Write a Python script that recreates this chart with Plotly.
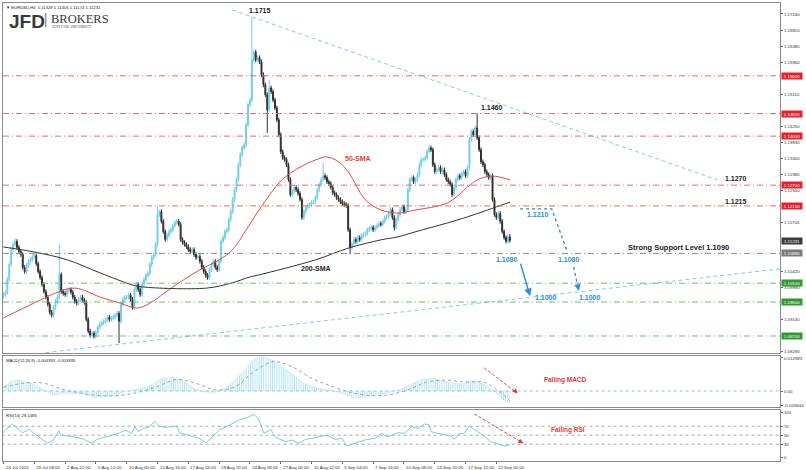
import plotly.graph_objects as go

# ---------------- DATA ----------------
closes = [
1.0980,1.0985,1.1020,1.1060,1.1099,1.1113,1.1121,1.1105,1.1094,1.1086,
1.1052,1.1041,1.1057,1.1068,1.1073,1.1081,1.1083,1.1062,1.1041,1.1025,
1.1007,1.0988,1.0973,1.0954,1.0933,1.0925,1.0946,1.0962,1.0973,1.1033,
1.0988,1.0983,1.0980,1.0991,1.0993,1.0986,1.0973,1.0962,1.0957,1.0967,
1.0973,1.0965,1.0959,1.0914,1.0883,1.0872,1.0877,1.0869,1.0880,1.0893,
1.0901,1.0904,1.0909,1.0912,1.0920,1.0914,1.0917,1.0920,1.0925,1.0930,
1.0909,1.0954,1.0967,1.0973,1.0973,1.0978,1.0967,1.0946,1.0993,1.1007,
1.0993,1.0980,1.1007,1.1020,1.1031,1.1036,1.1060,1.1078,1.1086,1.1113,
1.1192,1.1200,1.1174,1.1147,1.1126,1.1137,1.1147,1.1152,1.1163,1.1171,
1.1174,1.1166,1.1126,1.1118,1.1113,1.1107,1.1099,1.1094,1.1099,1.1086,
1.1078,1.1081,1.1068,1.1052,1.1041,1.1031,1.1025,1.1046,1.1060,1.1068,
1.1052,1.1046,1.1068,1.1121,1.1131,1.1147,1.1152,1.1179,1.1200,1.1232,
1.1258,1.1285,1.1324,1.1351,1.1369,1.1377,1.1430,1.1483,1.1496,1.1602,
1.1623,1.1602,1.1608,1.1597,1.1563,1.1536,1.1510,1.1470,1.1528,1.1518,
1.1496,1.1475,1.1443,1.1404,1.1359,1.1343,1.1338,1.1324,1.1285,1.1245,
1.1253,1.1264,1.1258,1.1248,1.1232,1.1184,1.1200,1.1211,1.1216,1.1219,
1.1224,1.1226,1.1237,1.1258,1.1272,1.1285,1.1295,1.1290,1.1279,1.1274,
1.1264,1.1250,1.1245,1.1237,1.1232,1.1226,1.1221,1.1219,1.1216,1.1152,
1.1105,1.1115,1.1126,1.1121,1.1131,1.1126,1.1137,1.1139,1.1142,1.1152,
1.1155,1.1158,1.1152,1.1158,1.1163,1.1168,1.1166,1.1174,1.1184,1.1187,
1.1195,1.1205,1.1184,1.1158,1.1179,1.1192,1.1205,1.1213,1.1200,1.1205,
1.1258,1.1285,1.1290,1.1279,1.1285,1.1298,1.1324,1.1338,1.1338,1.1343,
1.1359,1.1369,1.1364,1.1324,1.1306,1.1311,1.1317,1.1306,1.1311,1.1298,
1.1285,1.1279,1.1272,1.1245,1.1264,1.1285,1.1295,1.1290,1.1301,1.1306,
1.1295,1.1317,1.1391,1.1412,1.1404,1.1422,1.1396,1.1364,1.1332,1.1324,
1.1306,1.1298,1.1290,1.1295,1.1232,1.1192,1.1184,1.1195,1.1174,1.1147,
1.1131,1.1121,1.11328,1.11231]
first_open = 1.0975
WICK = 0.0006
high_override = {6: 1.1129, 29: 1.1113, 80: 1.1214, 129: 1.1715, 138: 1.1549,
                 166: 1.1330, 246: 1.1460, 263: 1.11405}
low_override = {60: 1.0851, 137: 1.1409, 180: 1.1087, 203: 1.1150, 263: 1.11174}

sma50_bars = [0, 15.7, 28.6, 37.4, 50.3, 60.6, 69.3, 76, 87.9, 101.8, 112.1, 118.8,
              127.6, 132.7, 144.6, 153.4, 162.1, 167.8, 174, 179.1, 188, 196.1,
              204.9, 213.7, 230.7, 241, 246.1, 253.9, 263.1]
sma50_vals = [1.0918, 1.0957, 1.0987, 1.0997, 1.0973, 1.0957, 1.0944, 1.0957, 1.1000,
              1.1045, 1.1072, 1.1098, 1.1164, 1.1204, 1.1284, 1.1316, 1.1337, 1.1345,
              1.1332, 1.1305, 1.1231, 1.1204, 1.1196, 1.1204, 1.1223, 1.1265, 1.1284,
              1.1294, 1.1284]
sma200_bars = [0, 15.7, 33.2, 50.3, 67.3, 72.4, 105.4, 118.8, 127.6, 132.7, 162.1,
               179.1, 196.1, 204.9, 213.7, 230.7, 241, 251.3, 263.1]
sma200_vals = [1.1106, 1.1093, 1.1072, 1.1037, 1.1005, 1.1000, 1.0997, 1.1011, 1.1026,
               1.1032, 1.1072, 1.1103, 1.1125, 1.1133, 1.1146, 1.1170, 1.1186, 1.1204,
               1.1225]

macd_bars = [0, 4, 7.5, 11.6, 16.8, 20.9, 25.5, 30.7, 36.3, 41.5, 46.6, 52.8, 58, 64.2,
             70.9, 77, 82.2, 87.9, 94, 99.2, 104, 109.5, 114.7, 120, 125, 130, 135,
             140.5, 145.6, 150.8, 156, 161, 166, 171, 176, 181.7, 186.9, 192, 197, 202,
             207.5, 212.6, 217.8, 223, 228, 233, 238.4, 243.6, 248.7, 253.9, 259, 263]
macd_vals = [0.0017, 0.0037, 0.0043, 0.0037, 0.0024, 0.0004, -0.0016, -0.0009, -0.0009,
             -0.0012, -0.0025, -0.0022, -0.0016, 0.0000, 0.0010, 0.0024, 0.0050, 0.0054,
             0.0037, 0.0010, -0.0004, -0.0006, 0.0010, 0.0040, 0.0080, 0.0125, 0.0135,
             0.0120, 0.0090, 0.0060, 0.0030, 0.0015, 0.0008, 0.0000, -0.0010, -0.0025,
             -0.0026, -0.0020, -0.0012, -0.0003, 0.0012, 0.0030, 0.0045, 0.0050, 0.0040,
             0.0030, 0.0028, 0.0040, 0.0030, 0.0005, -0.0030, -0.00495]
signal_bars = [0, 10, 20, 30, 40, 50, 60, 70, 80, 90, 100, 110, 120, 130, 140, 150, 160,
               170, 180, 190, 200, 210, 220, 230, 240, 250, 263]
signal_vals = [0.0015, 0.0030, 0.0032, 0.0008, -0.0008, -0.0018, -0.0018, -0.0005,
               0.0018, 0.0045, 0.0030, 0.0005, 0.0015, 0.0075, 0.0115, 0.0095, 0.0050,
               0.0020, -0.0005, -0.0018, -0.0015, 0.0005, 0.0035, 0.0043, 0.0035,
               0.0033, -0.003839]

rsi_bars = [0, 1.3, 4.7, 7.3, 9.9, 13.3, 15.9, 18.5, 22.8, 26.2, 28.8, 29.6, 33.1, 38.2,
            41.7, 46, 48.6, 55.4, 59.7, 63.1, 66.6, 68.3, 70, 72.6, 75.2, 78.6, 81.2,
            84.6, 89.8, 91.5, 97.5, 101.8, 105.3, 108.7, 112.1, 117.3, 122.4, 126.7,
            130.2, 132.7, 135.3, 138.8, 141.3, 146.5, 149.9, 153.4, 156.8, 160.2, 163.7,
            168, 172.3, 175.7, 178.2, 182.6, 187.7, 192.9, 196.3, 199.7, 204.9, 208.4,
            211.8, 215.2, 218.7, 221.2, 222.1, 225.5, 229, 232.4, 234.1, 236.7, 239.3,
            241.8, 243.6, 246.1, 249.6, 253, 256.4, 259.9, 263]
rsi_vals = [55.6, 63, 74, 65, 55.6, 63, 54, 46.7, 31.9, 40.8, 60, 50.4, 48.2, 45.2, 40.8,
            31.9, 40.8, 48.2, 54, 61.5, 54, 68.9, 57.8, 65.2, 67.4, 80, 68.9, 67.4, 70.4,
            55.6, 48.2, 43, 33.3, 46.7, 61.5, 72.6, 83.7, 89.6, 96.3, 83.7, 54, 63, 45.2,
            35.6, 39.3, 31.9, 40.8, 43, 46.7, 50.4, 40.8, 43, 26, 31.9, 39.3, 43, 54, 46.7,
            55.6, 54, 68.9, 65.2, 74.8, 72.6, 57.8, 54, 50.4, 48.2, 40.8, 54, 54, 70.4,
            65.2, 57.8, 48.2, 35.6, 31.9, 26, 28.15]

red_levels = [1.1560, 1.1460, 1.1400, 1.1270, 1.1215]
gray_levels = [1.1089]
green_levels = [1.1010, 1.0960, 1.0870]
last_price = 1.11231

price_ticks = [1.17240, 1.16810, 1.16380, 1.15960, 1.15110, 1.14250,
               1.13830, 1.13400, 1.12980, 1.12550, 1.11700,
               1.10420, 1.09990, 1.09140, 1.08290]
date_bars = [0, 16, 32, 48, 64, 80, 96, 112, 128, 144, 160, 176, 192, 208, 224, 240, 256]
date_labels = ["24 Jul 2015", "29 Jul 08:00", "2 Aug 22:00", "5 Aug 12:00", "10 Aug 00:00",
               "12 Aug 16:00", "17 Aug 04:00", "19 Aug 20:00", "24 Aug 08:00",
               "27 Aug 00:00", "31 Aug 12:00", "3 Sep 04:00", "7 Sep 16:00",
               "10 Sep 08:00", "14 Sep 20:00", "17 Sep 12:00", "22 Sep 00:00"]

down_trend = ([118.8, 370.9], [1.17346, 1.12837])
up_trend = ([21.9, 403.3], [1.0826, 1.1048])

# ---------------- build ----------------
n = len(closes)
bars = list(range(n))
opens = [first_open] + closes[:-1]
highs = [high_override.get(i, max(opens[i], closes[i]) + WICK) for i in bars]
lows = [low_override.get(i, min(opens[i], closes[i]) - WICK) for i in bars]

W, H = 806, 470
ML, MR, MT, MB = 2, 21, 3, 9
PW, PH = W - ML - MR, H - MT - MB

def px(x):
    return (x - ML) / PW

def py(y):
    return (H - MB - y) / PH

BULL = "#72cde8"
BEAR = "#2e2e2e"
BLUE = "#2a8fd6"
RED = "#e23a3a"
FONT = "Liberation Sans"

fig = go.Figure()
fig.add_trace(go.Candlestick(
    x=bars, open=opens, high=highs, low=lows, close=closes,
    increasing=dict(line=dict(color=BULL, width=1), fillcolor=BULL),
    decreasing=dict(line=dict(color=BEAR, width=1), fillcolor=BEAR),
    whiskerwidth=0, xaxis="x", yaxis="y", showlegend=False, hoverinfo="skip"))
fig.add_trace(go.Scatter(x=sma50_bars, y=sma50_vals, mode="lines",
    line=dict(color="#e04b4b", width=1, shape="spline"), xaxis="x", yaxis="y"))
fig.add_trace(go.Scatter(x=sma200_bars, y=sma200_vals, mode="lines",
    line=dict(color="#333333", width=1, shape="spline"), xaxis="x", yaxis="y"))
for tl in (down_trend, up_trend):
    fig.add_trace(go.Scatter(x=tl[0], y=tl[1], mode="lines",
        line=dict(color="#86cbe8", width=1, dash="4px,3px"), xaxis="x", yaxis="y"))

# MACD
fig.add_trace(go.Scatter(x=macd_bars, y=macd_vals, mode="lines",
    line=dict(color="rgba(114,205,232,0.5)", width=0.5), fill="tozeroy",
    fillcolor="rgba(0,0,0,0)",
    fillpattern=dict(shape="|", fgcolor="#72cde8", bgcolor="rgba(255,255,255,0)",
                     size=2.2, solidity=0.5),
    xaxis="x2", yaxis="y2"))
fig.add_trace(go.Scatter(x=signal_bars, y=signal_vals, mode="lines",
    line=dict(color="#a0a0a0", width=1, dash="dot", shape="spline"), xaxis="x2", yaxis="y2"))
fig.add_trace(go.Scatter(x=[-1, 410], y=[0, 0], mode="lines",
    line=dict(color="#72cde8", width=1, dash="dot"), xaxis="x2", yaxis="y2"))

# RSI
for lv in (70, 50, 30):
    fig.add_trace(go.Scatter(x=[-1, 410], y=[lv, lv], mode="lines",
        line=dict(color="#a8a8a8", width=1, dash="dot"), xaxis="x3", yaxis="y3"))
fig.add_trace(go.Scatter(x=rsi_bars, y=rsi_vals, mode="lines",
    line=dict(color="#72cde8", width=1), xaxis="x3", yaxis="y3"))

# projections
fig.add_trace(go.Scatter(x=[268.3, 284.8, 292.5], y=[1.1207, 1.1207, 1.1098], mode="lines",
    line=dict(color=BLUE, width=1.3, dash="dot"), xaxis="x", yaxis="y"))
fig.add_trace(go.Scatter(x=[296.1, 298.7], y=[1.1053, 1.0992], mode="lines",
    line=dict(color=BLUE, width=1.3, dash="dot"), xaxis="x", yaxis="y"))
fig.add_trace(go.Scatter(x=[249.7, 266.8], y=[0.00904, -0.0008], mode="lines",
    line=dict(color=RED, width=1, dash="3px,2px"), xaxis="x2", yaxis="y2"))
fig.add_trace(go.Scatter(x=[244.6, 269.8], y=[97.1, 32.7], mode="lines",
    line=dict(color=RED, width=1, dash="3px,2px"), xaxis="x3", yaxis="y3"))

xr = [-0.26, 403.3]
dom_main = [py(353), 1.0]
dom_macd = [py(407), py(356)]
dom_rsi = [0.0, py(410)]

axis_common = dict(showgrid=False, zeroline=False, showline=True, mirror=True,
                   linecolor="#8a8a8a", linewidth=1)
tickfont = dict(family=FONT, size=4.4, color="#333333")

fig.update_layout(
    width=W, height=H, margin=dict(l=ML, r=MR, t=MT, b=MB),
    paper_bgcolor="white", plot_bgcolor="white", showlegend=False,
    xaxis=dict(range=xr, anchor="y", domain=[0, 1], showticklabels=False, ticks="",
               rangeslider=dict(visible=False), **axis_common),
    xaxis2=dict(range=xr, anchor="y2", domain=[0, 1], matches="x", showticklabels=False,
                ticks="", **axis_common),
    xaxis3=dict(range=xr, anchor="y3", domain=[0, 1], matches="x", showticklabels=False,
                ticks="outside", ticklen=2, tickcolor="#666", tickvals=date_bars,
                **axis_common),
    yaxis=dict(domain=dom_main, range=[1.08249, 1.17531], side="right", anchor="x",
               tickvals=price_ticks, ticktext=[f"{v:.5f}" for v in price_ticks],
               ticks="outside", ticklen=2, tickcolor="#666", tickfont=tickfont, **axis_common),
    yaxis2=dict(domain=dom_macd, range=[-0.006288, 0.013755], side="right", anchor="x2",
                tickvals=[0.012983, 0.0, -0.005844],
                ticktext=["0.012983", "0.00", "-0.005844"],
                ticks="outside", ticklen=2, tickcolor="#666", tickfont=tickfont, **axis_common),
    yaxis3=dict(domain=dom_rsi, range=[-7.3, 106], side="right", anchor="x3",
                tickvals=[100, 70, 50, 30, 0], ticks="outside", ticklen=2, tickcolor="#666",
                tickfont=tickfont, **axis_common),
)

shapes = []
def hline(level, color):
    shapes.append(dict(type="line", xref="x domain", yref="y", x0=0, x1=1, y0=level,
                       y1=level, line=dict(color=color, width=1, dash="6px,3px,1px,3px")))
for lv in red_levels:
    hline(lv, "#e86a6a")
for lv in gray_levels:
    hline(lv, "#8c8c8c")
for lv in green_levels:
    hline(lv, "#6fbf6f")
# logo separator
shapes.append(dict(type="line", xref="paper", yref="paper", x0=px(45), x1=px(45),
                   y0=py(13), y1=py(27), line=dict(color="#9a9a9a", width=1.5)))
fig.update_layout(shapes=shapes)

ann = []
def box(level, text, bg):
    ann.append(dict(xref="paper", yref="y", x=1, y=level, xanchor="left", yanchor="middle",
                    xshift=1, text=text, showarrow=False, bgcolor=bg, borderpad=0.5,
                    font=dict(family=FONT, size=4.4, color="white"), width=19))
for lv in red_levels:
    box(lv, f"{lv:.5f}", "#e8202a")
box(last_price, f"{last_price:.5f}", "#3c3c3c")
for lv in gray_levels:
    box(lv, "1.10890", "#7a7a7a")
for lv in green_levels:
    box(lv, f"{lv:.5f}", "#2f9a2f")

for b, lab in zip(date_bars, date_labels):
    ann.append(dict(xref="x3", yref="paper", x=b, y=0, yshift=-2, xanchor="left",
                    yanchor="top", text=lab, showarrow=False,
                    font=dict(family=FONT, size=4.4, color="#333333")))

def txt(x, y, text, size=7, color="#222222", bold=True, xref="x", yref="y", xanchor="center"):
    t = f"<b>{text}</b>" if bold else text
    ann.append(dict(xref=xref, yref=yref, x=x, y=y, text=t, showarrow=False,
                    xanchor=xanchor, yanchor="middle",
                    font=dict(family=FONT, size=size, color=color)))

txt(133.2, 1.1732, "1.1715")
txt(253.9, 1.1477, "1.1460")
txt(380.7, 1.1289, "1.1270")
txt(380.7, 1.1228, "1.1215")
txt(350.5, 1.1106, "Strong Support Level 1.1090", size=7.5)
txt(184.3, 1.1342, "50-SMA", color="#e03c3c")
txt(162.4, 1.1050, "200-SMA")
txt(277.6, 1.1191, "1.1210", color=BLUE)
txt(261.6, 1.1074, "1.1080", color=BLUE)
txt(281.7, 1.0973, "1.1000", color=BLUE)
txt(293.6, 1.1074, "1.1080", color=BLUE)
txt(304.4, 1.0973, "1.1000", color=BLUE)
txt(292, 0.0043, "Falling MACD", size=6.5, color=RED, yref="y2")
txt(293, 61.6, "Falling RSI", size=6.5, color=RED, yref="y3")

# arrows
ann.append(dict(xref="x", yref="y", axref="x", ayref="y", x=273.5, y=1.0976, ax=268.3,
                ay=1.1066, showarrow=True, arrowhead=2, arrowsize=1, arrowwidth=1.5,
                arrowcolor=BLUE, text=""))
ann.append(dict(xref="x", yref="y", axref="x", ayref="y", x=298.9, y=1.0990, ax=298.3,
                ay=1.1002, showarrow=True, arrowhead=2, arrowsize=1, arrowwidth=1.3,
                arrowcolor=BLUE, text=""))
ann.append(dict(xref="x2", yref="y2", axref="x2", ayref="y2", x=267, y=-0.0010, ax=265.5,
                ay=0.0002, showarrow=True, arrowhead=2, arrowsize=1, arrowwidth=1,
                arrowcolor=RED, text=""))
ann.append(dict(xref="x3", yref="y3", axref="x3", ayref="y3", x=270, y=32, ax=268,
                ay=37, showarrow=True, arrowhead=2, arrowsize=1, arrowwidth=1,
                arrowcolor=RED, text=""))

# header, panel titles, logo
def ptxt(x, y, text, size, color="#222222", family=FONT):
    ann.append(dict(xref="paper", yref="paper", x=px(x), y=py(y), xanchor="left",
                    yanchor="top", text=text, showarrow=False,
                    font=dict(family=family, size=size, color=color)))
ptxt(3, 3, "▼ EURUSD,H4  1.11328 1.11405 1.11174 1.11231", 4.2)
ptxt(3, 356, "MACD(12,26,9) -0.004953 -0.003839", 4.2)
ptxt(3, 411, "RSI(14) 28.1486", 4.2)
ptxt(6, 9, "<b>JFD</b>", 19, "#3a3a3a")
ptxt(48, 10.5, "BROKERS", 12.5, "#3a3a3a", "Liberation Serif")
ptxt(49.5, 23.2, "JUST FAIR AND DIRECT", 3.6, "#444444", "Liberation Serif")

fig.update_layout(annotations=ann)
fig.write_html("out.html")
